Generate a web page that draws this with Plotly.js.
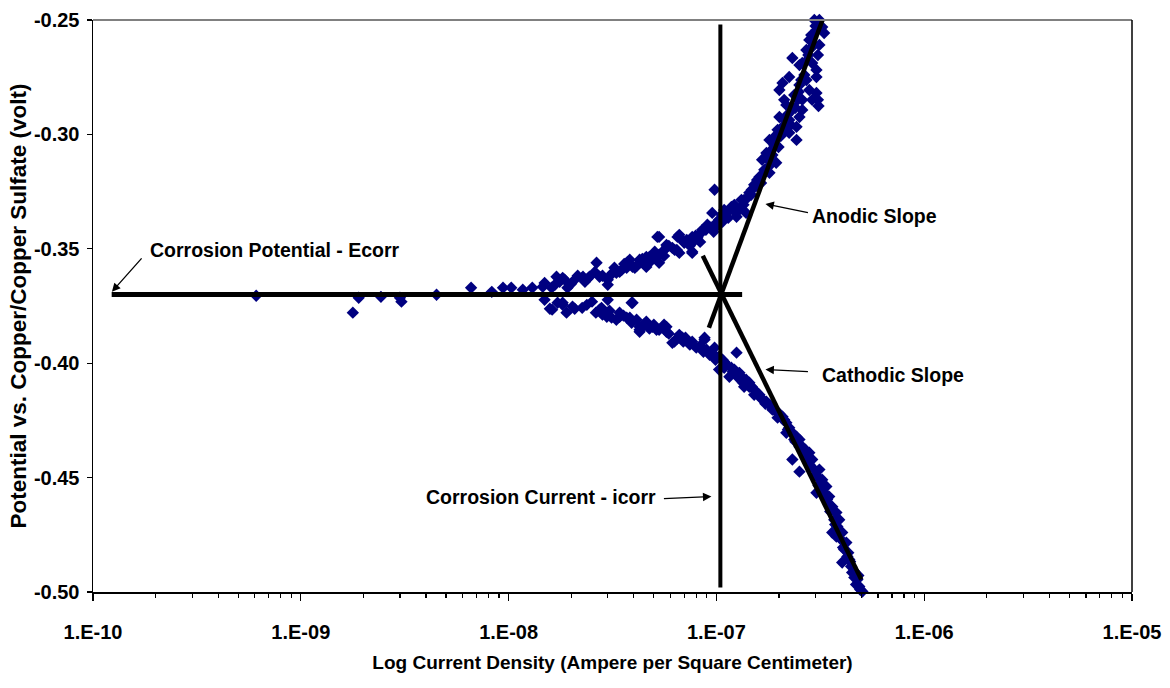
<!DOCTYPE html>
<html>
<head>
<meta charset="utf-8">
<script src="https://cdn.plot.ly/plotly-3.0.1.min.js"></script>
<style>
html,body{margin:0;padding:0;background:#fff;}
#chart{width:1170px;height:688px;}
</style>
</head>
<body>
<div id="chart"></div>
<script>
// ---- measured data (current density A/cm2, potential V vs Cu/CuSO4) ----
const currentDensity = [
  // near Ecorr / low current
  6.1e-10, 1.78e-9, 1.9e-9, 2.43e-9, 3.0e-9, 3.05e-9, 4.5e-9, 6.6e-9, 8.3e-9, 9.4e-9,
  1.03e-8, 1.17e-8, 1.30e-8, 1.46e-8, 1.61e-8, 1.49e-8, 1.58e-8, 1.76e-8, 1.82e-8, 1.92e-8,
  1.82e-8, 2.03e-8, 2.26e-8, 2.26e-8, 2.52e-8, 2.45e-8, 2.65e-8, 2.80e-8, 2.97e-8, 2.74e-8,
  3.0e-8, 3.0e-8, 3.17e-8, 3.42e-8, 3.74e-8, 3.91e-8, 3.7e-8, 3.95e-8, 4.27e-8, 4.6e-8,
  4.6e-8, 5.15e-8, 5.2e-8, 5.3e-8, 5.75e-8, 6.63e-8, 6.14e-8, 7.0e-8, 7.65e-8, 7.65e-8,
  8.45e-8, 9.45e-8, 1.0e-7, 3.83e-8, 4.27e-8, 4.93e-8, 5.75e-8, 6.14e-8, 6.86e-8, 7.65e-8,
  8.77e-8, 9.8e-8, 4.27e-8,
  // cathodic branch
  1.62e-8, 1.82e-8, 1.90e-8, 2.74e-8, 2.83e-8, 3.13e-8, 3.42e-8, 3.70e-8, 3.95e-8, 4.13e-8,
  4.27e-8, 4.6e-8, 5.0e-8, 5.6e-8, 5.75e-8, 6.28e-8, 6.63e-8, 7.1e-8, 8.0e-8, 8.77e-8,
  8.97e-8, 9.55e-8, 1.03e-7, 1.25e-7, 1.03e-7, 1.12e-7, 1.18e-7, 1.155e-7, 1.29e-7, 1.39e-7,
  1.36e-7, 1.48e-7, 1.57e-7, 1.66e-7, 1.80e-7, 1.94e-7, 2.08e-7, 2.17e-7, 2.24e-7, 2.32e-7,
  2.43e-7, 2.17e-7, 2.32e-7, 2.51e-7, 2.59e-7, 2.80e-7, 2.89e-7, 3.13e-7, 3.23e-7, 3.03e-7,
  3.38e-7, 3.49e-7, 3.61e-7, 3.78e-7, 3.90e-7, 3.61e-7, 3.78e-7, 4.03e-7, 4.22e-7, 4.03e-7,
  4.27e-7, 4.45e-7, 4.50e-7, 4.77e-7, 4.87e-7, 5.04e-7,
  1.09e-7, 1.22e-7, 1.32e-7, 1.44e-7, 1.52e-7, 1.61e-7, 1.74e-7, 1.86e-7, 2.01e-7, 2.12e-7,
  2.37e-7, 2.51e-7, 2.65e-7, 2.75e-7, 2.96e-7, 3.08e-7, 3.2e-7, 3.30e-7, 3.49e-7, 3.69e-7,
  3.82e-7, 3.98e-7, 4.12e-7, 4.36e-7, 4.61e-7, 4.7e-7,
  1.72e-8, 2.08e-8, 2.38e-8, 2.63e-8, 3.06e-8, 3.3e-8, 3.57e-8, 3.91e-8, 4.46e-8, 4.76e-8,
  5.3e-8, 5.9e-8, 6.45e-8, 6.93e-8, 7.45e-8, 8.35e-8, 8.66e-8, 9.27e-8, 9.9e-8, 1.07e-7,
  1.09e-7, 1.2e-7, 1.26e-7, 1.34e-7, 1.44e-7, 1.52e-7, 1.64e-7, 1.72e-7, 1.86e-7, 1.97e-7,
  2.1e-7, 2.21e-7, 2.4e-7, 2.51e-7, 2.68e-7, 2.8e-7, 3.0e-7, 3.1e-7, 3.26e-7, 3.41e-7,
  3.53e-7, 3.73e-7, 3.9e-7, 4.07e-7, 4.31e-7, 4.4e-7, 4.61e-7, 4.82e-7, 4.92e-7,
  // anodic branch
  1.70e-8, 2.28e-8, 3.0e-8, 3.3e-8, 3.83e-8, 4.27e-8, 4.76e-8, 5.3e-8, 5.3e-8, 5.8e-8,
  6.5e-8, 6.63e-8, 7.65e-8, 7.65e-8, 8.55e-8, 9.27e-8, 9.55e-8, 9.8e-8, 1.03e-7, 1.12e-7,
  1.18e-7, 1.25e-7, 1.32e-7, 1.39e-7, 1.44e-7, 1.48e-7, 1.61e-7, 1.66e-7, 1.74e-7, 1.80e-7,
  1.94e-7, 1.90e-7, 2.01e-7, 2.08e-7, 2.24e-7, 2.24e-7, 2.43e-7, 2.51e-7, 2.59e-7, 2.80e-7,
  2.89e-7, 2.01e-7, 2.08e-7, 2.24e-7, 2.32e-7, 2.71e-7, 2.89e-7, 3.03e-7, 3.03e-7, 3.03e-7,
  2.89e-7, 3.03e-7, 3.13e-7, 3.23e-7, 2.96e-7, 3.30e-7, 2.59e-7, 2.71e-7, 2.46e-7, 2.59e-7,
  2.43e-7,
  1.06e-7, 1.09e-7, 1.22e-7, 1.29e-7, 1.36e-7, 1.52e-7, 1.57e-7, 1.70e-7, 1.77e-7, 1.84e-7,
  1.90e-7, 1.97e-7, 2.12e-7, 2.17e-7, 2.32e-7, 2.37e-7, 2.51e-7, 2.65e-7, 2.51e-7, 2.80e-7,
  3.13e-7, 3.08e-7, 2.12e-7, 1.80e-7, 9.05e-8, 8.1e-8, 7.2e-8, 6.3e-8, 5.5e-8, 5.0e-8,
  4.5e-8, 4.05e-8, 3.5e-8, 3.1e-8, 2.08e-8, 2.33e-8, 3.08e-7, 3.1e-7,
  1.49e-8, 1.67e-8, 1.86e-8, 2.0e-8, 2.15e-8, 2.4e-8, 2.6e-8, 2.83e-8, 3.23e-8, 3.42e-8,
  3.6e-8, 4.13e-8, 4.4e-8, 4.85e-8, 5.05e-8, 5.6e-8, 5.9e-8, 6.45e-8, 6.9e-8, 7.45e-8,
  7.95e-8, 8.35e-8, 8.9e-8, 9.7e-8, 1.01e-7, 1.07e-7, 1.14e-7, 1.21e-7, 1.35e-7, 1.41e-7,
  1.47e-7, 1.56e-7, 1.64e-7, 1.72e-7, 1.82e-7, 1.86e-7, 1.99e-7, 2.04e-7, 2.15e-7, 2.19e-7,
  2.28e-7, 2.4e-7, 2.49e-7, 2.56e-7, 2.68e-7, 2.77e-7, 2.86e-7, 3.0e-7
];
const potential = [
  -0.3705, -0.3779, -0.3714, -0.3710, -0.3714, -0.3731, -0.3701, -0.3670, -0.3688, -0.3670,
  -0.3670, -0.3679, -0.3670, -0.3666, -0.3670, -0.3723, -0.3762, -0.3644, -0.3627, -0.3670,
  -0.3736, -0.3753, -0.3758, -0.3627, -0.3731, -0.3622, -0.3561, -0.3758, -0.3797, -0.3622,
  -0.3657, -0.3723, -0.3605, -0.3797, -0.3557, -0.3736, -0.3583, -0.3579, -0.3548, -0.3579,
  -0.3535, -0.3854, -0.3448, -0.3526, -0.3483, -0.3439, -0.3496, -0.3474, -0.3513, -0.3448,
  -0.3430, -0.3408, -0.3387, -0.3801, -0.3841, -0.3841, -0.3841, -0.3911, -0.3889, -0.3906,
  -0.3889, -0.3932, -0.3854,
  -0.3766, -0.3745, -0.3779, -0.3766, -0.3788, -0.3801, -0.3779, -0.3801, -0.3736, -0.3810,
  -0.3863, -0.3819, -0.3832, -0.3832, -0.3863, -0.3906, -0.3876, -0.3889, -0.3932, -0.3897,
  -0.3941, -0.3954, -0.3972, -0.3954, -0.4028, -0.4007, -0.4020, -0.4059, -0.4042, -0.4072,
  -0.4103, -0.4103, -0.4129, -0.4159, -0.4181, -0.4212, -0.4234, -0.4260, -0.4282, -0.4304,
  -0.4321, -0.4304, -0.4421, -0.4474, -0.4365, -0.4391, -0.4421, -0.4465, -0.4509, -0.4566,
  -0.4539, -0.4583, -0.4627, -0.4653, -0.4684, -0.4740, -0.4758, -0.4740, -0.4784, -0.4871,
  -0.4845, -0.4889, -0.4915, -0.4945, -0.4976, -0.4998,
  -0.3994, -0.4028, -0.4059, -0.4085, -0.4116, -0.4138, -0.4168, -0.4194, -0.4221, -0.4247,
  -0.4334, -0.4365, -0.4400, -0.4430, -0.4465, -0.4500, -0.4531, -0.4566, -0.4618, -0.4684,
  -0.4714, -0.4771, -0.4814, -0.4858, -0.4910, -0.4967,
  -0.3736, -0.3762, -0.3745, -0.3779, -0.3771, -0.3810, -0.3792, -0.3823, -0.3832, -0.3849,
  -0.3854, -0.3871, -0.3893, -0.3906, -0.3919, -0.3924, -0.3950, -0.3963, -0.3985, -0.3985,
  -0.4020, -0.4037, -0.4059, -0.4085, -0.4103, -0.4138, -0.4151, -0.4177, -0.4203, -0.4238,
  -0.4247, -0.4290, -0.4343, -0.4334, -0.4378, -0.4443, -0.4487, -0.4535, -0.4552, -0.4596,
  -0.4648, -0.4705, -0.4736, -0.4806, -0.4828, -0.4867, -0.4937, -0.4928, -0.4989,
  -0.3622, -0.3622, -0.3635, -0.3605, -0.3548, -0.3561, -0.3535, -0.3561, -0.3448, -0.3491,
  -0.3448, -0.3518, -0.3474, -0.3518, -0.3417, -0.3404, -0.3343, -0.3242, -0.3373, -0.3343,
  -0.3317, -0.3360, -0.3286, -0.3343, -0.3255, -0.3242, -0.3186, -0.3111, -0.3081, -0.3168,
  -0.3124, -0.3011, -0.2924, -0.2967, -0.2993, -0.2937, -0.3024, -0.2924, -0.2849, -0.2806,
  -0.2849, -0.2806, -0.2775, -0.2749, -0.2666, -0.2631, -0.2688, -0.2718, -0.2749, -0.2819,
  -0.2618, -0.2544, -0.2500, -0.2531, -0.2500, -0.2557, -0.2688, -0.2762, -0.2849, -0.2893,
  -0.2967,
  -0.3351, -0.3330, -0.3308, -0.3330, -0.3286, -0.3220, -0.3199, -0.3155, -0.3111, -0.3068,
  -0.3046, -0.2980, -0.2937, -0.2871, -0.2893, -0.2828, -0.2784, -0.2740, -0.2697, -0.2587,
  -0.2609, -0.2653, -0.2849, -0.3024, -0.3395, -0.3452, -0.3461, -0.3505, -0.3513, -0.3539,
  -0.3557, -0.3583, -0.3592, -0.3614, -0.3635, -0.3644, -0.2849, -0.2876,
  -0.3649, -0.3657, -0.3635, -0.3653, -0.3618, -0.3631, -0.3601, -0.3618, -0.3583, -0.3601,
  -0.3566, -0.3575, -0.3544, -0.3553, -0.3513, -0.3531, -0.3487, -0.3505, -0.3465, -0.3487,
  -0.3443, -0.3470, -0.3417, -0.3426, -0.3399, -0.3382, -0.3365, -0.3334, -0.3308, -0.3277,
  -0.3264, -0.3225, -0.3212, -0.3164, -0.3133, -0.3090, -0.3055, -0.3007, -0.2980, -0.2915,
  -0.2959, -0.2884, -0.2814, -0.2762, -0.2683, -0.2653, -0.2566, -0.2526
];

// Tafel construction lines
const ecorrLineX = [1.23e-10, 1.33e-7];
const ecorrLineY = [-0.370, -0.370];
const icorrLineX = [1.045e-7, 1.045e-7];
const icorrLineY = [-0.252, -0.498];
const anodicLineX = [9.2e-8, 3.24e-7];
const anodicLineY = [-0.3845, -0.250];
const cathodicLineX = [8.6e-8, 4.98e-7];
const cathodicLineY = [-0.353, -0.4945];

// axis ticks
const xTickVals = [1e-10, 1e-9, 1e-8, 1e-7, 1e-6, 1e-5];
const xTickText = ['1.E-10', '1.E-09', '1.E-08', '1.E-07', '1.E-06', '1.E-05'];
const yTickVals = [-0.50, -0.45, -0.40, -0.35, -0.30, -0.25];
const yTickText = ['-0.50', '-0.45', '-0.40', '-0.35', '-0.30', '-0.25'];

// annotation labels
const labels = ['Corrosion Potential - Ecorr', 'Anodic Slope', 'Cathodic Slope', 'Corrosion Current - icorr'];

const minorVals = [];
for (let e = -10; e < -5; e++) {
  for (let d = 2; d <= 9; d++) minorVals.push(d * Math.pow(10, e));
}

const FONT = 'Liberation Sans, Arial, Helvetica, sans-serif';
const lineStyle = (w) => ({color: '#000000', width: w});

const traces = [
  {x: currentDensity, y: potential, mode: 'markers', type: 'scatter', cliponaxis: false,
   marker: {symbol: 'diamond', size: 9.5, color: '#000080', line: {width: 0}}, hoverinfo: 'skip'},
  {x: ecorrLineX, y: ecorrLineY, mode: 'lines', type: 'scatter', line: lineStyle(5), cliponaxis: false},
  {x: icorrLineX, y: icorrLineY, mode: 'lines', type: 'scatter', line: lineStyle(4), cliponaxis: false},
  {x: anodicLineX, y: anodicLineY, mode: 'lines', type: 'scatter', line: lineStyle(4.5), cliponaxis: false},
  {x: cathodicLineX, y: cathodicLineY, mode: 'lines', type: 'scatter', line: lineStyle(4.5), cliponaxis: false}
];

const arrowBase = {text: '', showarrow: true, arrowhead: 2, arrowsize: 1.3, arrowwidth: 1.3,
  arrowcolor: '#000', xref: 'x', yref: 'y', axref: 'pixel', ayref: 'pixel'};
const textBase = {showarrow: false, xref: 'x', yref: 'y', yanchor: 'middle',
  font: {family: FONT, size: 19.5, color: '#000', weight: 700}};

const layout = {
  width: 1170, height: 688,
  margin: {l: 93, r: 38, t: 20, b: 96},
  paper_bgcolor: '#ffffff', plot_bgcolor: '#ffffff',
  showlegend: false,
  font: {family: FONT, size: 19, color: '#000', weight: 700},
  xaxis: {
    type: 'log', range: [-10, -5], tickmode: 'array', tickvals: xTickVals, ticktext: xTickText,
    ticks: 'outside', ticklen: 7, tickwidth: 1.3, tickcolor: '#000', ticklabelstandoff: 14,
    minor: {tickmode: 'array', tickvals: minorVals, ticks: 'outside', ticklen: 4.5, tickwidth: 1.2, tickcolor: '#000', showgrid: false},
    showline: true, linecolor: '#000', linewidth: 1.5, showgrid: false, zeroline: false,
    tickfont: {family: FONT, size: 20, color: '#000', weight: 700},
    title: {text: 'Log Current Density (Ampere per Square Centimeter)', standoff: 14,
            font: {family: FONT, size: 19, color: '#000', weight: 700}}
  },
  yaxis: {
    range: [-0.50, -0.25], tickmode: 'array', tickvals: yTickVals, ticktext: yTickText,
    ticks: 'outside', ticklen: 5, tickwidth: 1.3, tickcolor: '#000', ticklabelstandoff: 3,
    showline: true, linecolor: '#000', linewidth: 1.5, showgrid: false, zeroline: false,
    tickfont: {family: FONT, size: 20, color: '#000', weight: 700},
    title: {text: 'Potential vs. Copper/Copper Sulfate (volt)', standoff: 1,
            font: {family: FONT, size: 22.5, color: '#000', weight: 700}}
  },
  shapes: [
    {type: 'line', xref: 'paper', yref: 'paper', x0: 0, x1: 1, y0: 1, y1: 1, line: {color: '#808080', width: 2}},
    {type: 'line', xref: 'paper', yref: 'paper', x0: 1, x1: 1, y0: 0, y1: 1, line: {color: '#000000', width: 1.5}}
  ],
  annotations: [
    Object.assign({}, textBase, {x: -9.736, y: -0.3504, xanchor: 'left', text: labels[0]}),
    Object.assign({}, textBase, {x: -6.548, y: -0.3356, xanchor: 'left', text: labels[1]}),
    Object.assign({}, textBase, {x: -6.500, y: -0.4050, xanchor: 'left', text: labels[2]}),
    Object.assign({}, textBase, {x: -7.279, y: -0.4583, xanchor: 'right', text: labels[3]}),
    Object.assign({}, arrowBase, {x: -9.909, y: -0.3688, ax: 31, ay: -35}),
    Object.assign({}, arrowBase, {x: -6.764, y: -0.3304, ax: 44, ay: 9}),
    Object.assign({}, arrowBase, {x: -6.764, y: -0.4028, ax: 44, ay: 2}),
    Object.assign({}, arrowBase, {x: -7.024, y: -0.4583, ax: -49, ay: 2})
  ]
};

Plotly.newPlot('chart', traces, layout, {displayModeBar: false, staticPlot: true});
</script>
</body>
</html>
